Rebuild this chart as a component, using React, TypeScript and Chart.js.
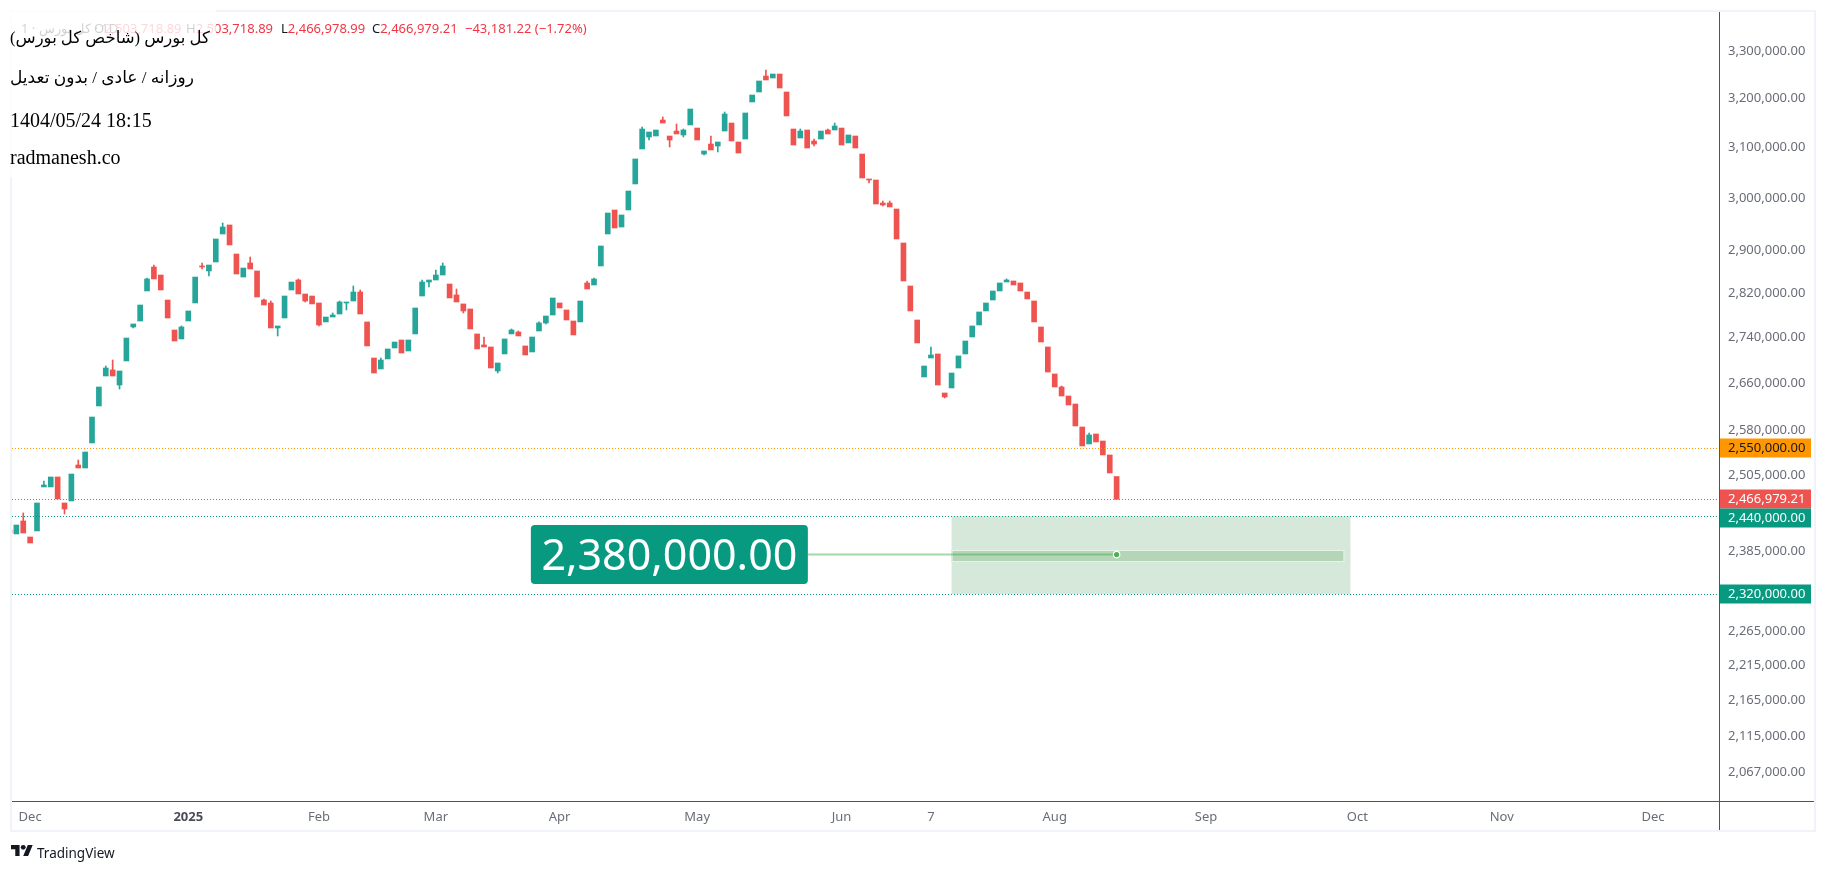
import React, { useEffect, useRef } from "react";
import { Chart, registerables } from "chart.js";

Chart.register(...registerables);

const opens = [
  2418300, 2412100, 2432500, 2407400, 2416800, 2486800, 2486800, 2503000, 2461100, 2464300,
  2522500, 2517600, 2558800, 2621000, 2672500, 2683000, 2656900, 2698700, 2758900, 2769600,
  2824100, 2868400, 2853500, 2807600, 2753500, 2737500, 2769600, 2802200, 2870300, 2861000,
  2877700, 2930500, 2947700, 2892700, 2849800, 2875900, 2861000, 2807600, 2802200, 2757100,
  2775000, 2825900, 2844300, 2818600, 2814900, 2802200, 2767900, 2776800, 2782200, 2802200,
  2805800, 2822200, 2767900, 2703900, 2684700, 2702200, 2721500, 2735700, 2716200, 2746400,
  2814900, 2840600, 2844300, 2853500, 2836900, 2816800, 2800400, 2791300, 2746400, 2726900,
  2723300, 2681200, 2711000, 2746400, 2749900, 2725100, 2714500, 2751700, 2766100, 2780400,
  2802200, 2789500, 2769600, 2767900, 2838800, 2835100, 2870300, 2930500, 2976500, 2943800,
  2976500, 3027200, 3096700, 3120900, 3122900, 3155500, 3122900, 3133000, 3125000, 3145300,
  3139100, 3086600, 3106700, 3102700, 3133000, 3149300, 3110800, 3116800, 3192600, 3213400,
  3246900, 3242700, 3251100, 3213400, 3137100, 3118800, 3135100, 3112800, 3116800, 3135100,
  3135100, 3139100, 3108800, 3122900, 3086600, 3037000, 3035000, 2990000, 2990000, 2978400,
  2913400, 2833300, 2771400, 2670800, 2703900, 2711000, 2643200, 2651800, 2686400, 2711000,
  2741000, 2762500, 2787700, 2807600, 2824100, 2840600, 2842500, 2838800, 2822200, 2805800,
  2758900, 2723300, 2676000, 2653500, 2638000, 2624400, 2585500, 2557200, 2573800, 2562100,
  2539000, 2503718.89,
];

const closes = [
  2414000, 2426200, 2413600, 2398000, 2461100, 2490000, 2503000, 2467500, 2451500, 2507800,
  2517600, 2543900, 2602300, 2653500, 2686400, 2672500, 2681200, 2739200, 2764300, 2798500,
  2846200, 2846200, 2825900, 2775000, 2733900, 2758900, 2787700, 2849800, 2868400, 2872100,
  2921000, 2943800, 2909700, 2855400, 2866500, 2864700, 2813100, 2798500, 2757100, 2760700,
  2814900, 2840600, 2818600, 2805800, 2800400, 2762500, 2776800, 2780400, 2804000, 2804000,
  2822200, 2782200, 2725100, 2677700, 2700400, 2719800, 2732100, 2712700, 2735700, 2793100,
  2840600, 2844300, 2853500, 2870300, 2811300, 2804000, 2787700, 2755300, 2719800, 2723300,
  2686400, 2695200, 2737500, 2753500, 2742800, 2709200, 2741000, 2766100, 2778600, 2811300,
  2793100, 2771400, 2744600, 2805800, 2827700, 2846200, 2907800, 2970700, 2941900, 2966900,
  3013400, 3076700, 3137100, 3131000, 3135100, 3149300, 3114800, 3127000, 3135100, 3178100,
  3114800, 3092700, 3094700, 3110800, 3167800, 3112800, 3088600, 3169900, 3207100, 3236400,
  3238500, 3251100, 3221700, 3163800, 3104700, 3133000, 3098700, 3106700, 3133000, 3127000,
  3143200, 3104700, 3125000, 3098700, 3039000, 3035000, 2988100, 2986200, 2982300, 2921000,
  2842500, 2787700, 2730400, 2689900, 2709200, 2656900, 2636400, 2677700, 2707500, 2733900,
  2760700, 2785900, 2802200, 2824100, 2838800, 2844300, 2835100, 2824100, 2809500, 2767900,
  2732100, 2679400, 2653500, 2638000, 2622700, 2587200, 2553900, 2572100, 2560500, 2539000,
  2509500, 2466979.21,
];

// [candle number, price of the wick's end]; candles not listed have no wick on that side
const upperWicks = [
  [2, 2445200], [5, 2496500], [10, 2530700], [14, 2689900], [15, 2700400], [20, 2848000],
  [21, 2872100], [25, 2760700], [28, 2875900], [31, 2951500], [35, 2887100], [37, 2809500],
  [38, 2805800], [42, 2846200], [47, 2784000], [48, 2805800], [50, 2833300], [51, 2825900],
  [54, 2703900], [60, 2844300], [62, 2862800], [63, 2875900], [65, 2827700], [69, 2741000],
  [73, 2755300], [74, 2751700], [77, 2767900], [84, 2842500], [85, 2848000], [92, 3141200],
  [95, 3161700], [97, 3147300], [98, 3137100], [102, 3122900], [104, 3171900], [110, 3259600],
  [115, 3137100], [117, 3116800], [119, 3137100], [120, 3149300], [127, 2993900], [128, 2993900],
  [134, 2723300], [145, 2846200], [153, 2655200], [157, 2575500],
];

const lowerWicks = [
  [8, 2443600], [16, 2650100], [18, 2757100], [28, 2864700], [29, 2851700], [39, 2742800],
  [43, 2804000], [45, 2760700], [49, 2789500], [61, 2831400], [66, 2784000], [71, 2677700],
  [78, 2764300], [93, 3114800], [96, 3100700], [98, 3120900], [101, 3084600], [103, 3090700],
  [117, 3102700], [125, 3029100], [127, 2984300], [136, 2634700],
];

const priceTicks = [
  3300000, 3200000, 3100000, 3000000, 2900000, 2820000, 2740000, 2660000, 2580000, 2505000,
  2385000, 2265000, 2215000, 2165000, 2115000, 2067000,
];

const monthPositions = [3, 26, 45, 62, 80, 100, 121, 134, 152, 174, 196, 217, 239];
const monthLabels = ["Dec", "2025", "Feb", "Mar", "Apr", "May", "Jun", "7", "Aug", "Sep", "Oct", "Nov", "Dec"];

const priceLevels = [2550000, 2466979.21, 2440000, 2320000];
const levelColors = ["#ff9800", "#ef5350", "#089981", "#089981"];
const levelTextColors = ["#131722", "#ffffff", "#ffffff", "#ffffff"];

const target = 2380000;
const targetBandHigh = 2387000;
const targetBandLow = 2369700;
const zoneHigh = 2440000;
const zoneLow = 2320000;
const zoneStart = 137;
const zoneEnd = 195;
const bandEnd = 194;
const targetLabelEnd = 116.1;
const lastCandle = 161;

const UP = "#26a69a";
const DOWN = "#ef5350";
const FONT = '"Noto Sans", sans-serif';
const fmt = (v: number) =>
  v.toLocaleString("en-US", { minimumFractionDigits: 2, maximumFractionDigits: 2 });

const annotationPlugin = {
  id: "annotations",
  beforeDatasetsDraw(chart: any) {
    const { ctx, scales } = chart;
    const x = scales.x;
    const y = scales.y;
    ctx.save();
    const zx0 = x.getPixelForValue(zoneStart);
    const zx1 = x.getPixelForValue(zoneEnd);
    const zy0 = y.getPixelForValue(zoneHigh);
    const zy1 = y.getPixelForValue(zoneLow);
    ctx.fillStyle = "#d6e8da";
    ctx.fillRect(zx0, zy0, zx1 - zx0, zy1 - zy0);
    const by0 = y.getPixelForValue(targetBandHigh);
    const by1 = y.getPixelForValue(targetBandLow);
    const bx1 = x.getPixelForValue(bandEnd);
    ctx.fillStyle = "#b5d5b7";
    ctx.fillRect(zx0, by0, bx1 - zx0, by1 - by0);
    ctx.strokeStyle = "#e6f1e7";
    ctx.lineWidth = 1;
    ctx.strokeRect(zx0 + 0.5, Math.round(by0) + 0.5, bx1 - zx0, Math.round(by1 - by0));
    ctx.restore();
  },
  afterDatasetsDraw(chart: any) {
    const { ctx, scales, chartArea } = chart;
    const x = scales.x;
    const y = scales.y;
    ctx.save();

    // dotted price levels
    ctx.lineWidth = 1;
    ctx.setLineDash([1, 2]);
    priceLevels.forEach((v, i) => {
      const py = Math.round(y.getPixelForValue(v)) + 0.5;
      ctx.strokeStyle = levelColors[i];
      ctx.beginPath();
      ctx.moveTo(chartArea.left, py);
      ctx.lineTo(chartArea.right, py);
      ctx.stroke();
    });
    ctx.setLineDash([]);

    // target line, point and label
    const ty = y.getPixelForValue(target);
    const lx = x.getPixelForValue(targetLabelEnd);
    const px = x.getPixelForValue(lastCandle);
    ctx.strokeStyle = "rgba(76,175,80,0.5)";
    ctx.lineWidth = 2;
    ctx.beginPath();
    ctx.moveTo(lx, ty);
    ctx.lineTo(px, ty);
    ctx.stroke();
    ctx.fillStyle = "#4caf50";
    ctx.strokeStyle = "#ffffff";
    ctx.lineWidth = 1.2;
    ctx.beginPath();
    ctx.arc(px, ty, 3.2, 0, Math.PI * 2);
    ctx.fill();
    ctx.stroke();

    const boxW = 277;
    const boxH = 59;
    ctx.fillStyle = "#089981";
    ctx.beginPath();
    ctx.roundRect(lx - boxW, ty - boxH / 2, boxW, boxH, 4);
    ctx.fill();
    ctx.fillStyle = "#ffffff";
    ctx.font = `43px ${FONT}`;
    ctx.textAlign = "center";
    ctx.textBaseline = "middle";
    ctx.fillText(fmt(target), lx - boxW / 2, ty + 3);

    // frame and axis lines
    ctx.fillStyle = "#f0f3fa";
    ctx.fillRect(10, 10, 1806, 2);
    ctx.fillRect(10, 10, 2, 822);
    ctx.fillRect(1814, 10, 2, 822);
    ctx.fillRect(10, 830, 1806, 2);
    ctx.fillStyle = "#50535e";
    ctx.fillRect(12, 801, 1802, 1);
    ctx.fillRect(1719, 12, 1, 818);

    // price labels on the axis, pushed down so they never overlap
    ctx.font = `13px ${FONT}`;
    ctx.textAlign = "left";
    let prevBottom = -Infinity;
    priceLevels.forEach((v, i) => {
      const py = Math.max(Math.round(y.getPixelForValue(v)), prevBottom + 9.5);
      ctx.fillStyle = levelColors[i];
      ctx.fillRect(1720, py - 9.5, 91, 19);
      ctx.fillStyle = levelTextColors[i];
      ctx.fillText(fmt(v), 1728, py + 0.5);
      prevBottom = py + 9.5;
    });
    ctx.restore();
  },
};

export default function App() {
  const ref = useRef<HTMLCanvasElement | null>(null);

  useEffect(() => {
    const body = opens.map((o, i) => ({ x: i, y: [o, closes[i]] }));
    const colors = opens.map((o, i) => (closes[i] >= o ? UP : DOWN));
    const wick = (list: number[][], side: "up" | "down") =>
      list.map(([i, v]) => ({
        x: i,
        y: [side === "up" ? Math.max(opens[i], closes[i]) : Math.min(opens[i], closes[i]), v],
      }));
    const wickColor = (list: number[][]) => list.map(([i]) => colors[i]);

    const chart = new Chart(ref.current as HTMLCanvasElement, {
      type: "bar",
      data: {
        datasets: [
          {
            label: "upper wick",
            data: wick(upperWicks, "up"),
            backgroundColor: wickColor(upperWicks),
            barThickness: 1,
          },
          {
            label: "lower wick",
            data: wick(lowerWicks, "down"),
            backgroundColor: wickColor(lowerWicks),
            barThickness: 1,
          },
          {
            label: "body",
            data: body,
            backgroundColor: colors,
            barThickness: 5,
          },
        ] as any,
      },
      options: {
        responsive: false,
        animation: false,
        devicePixelRatio: 1,
        layout: { padding: { left: 12, top: 12, right: 0, bottom: 0 } },
        plugins: { legend: { display: false }, tooltip: { enabled: false } },
        datasets: { bar: { grouped: false } },
        scales: {
          x: {
            type: "linear",
            bounds: "data",
            offset: false,
            min: 0.364,
            max: 248.6,
            grid: { display: false, drawTicks: false, tickLength: 0 },
            border: { display: false },
            afterFit: (s: any) => {
              s.height = 70;
              s.paddingLeft = 0;
              s.paddingRight = 0;
            },
            afterBuildTicks: (s: any) => {
              s.ticks = monthPositions.map((value) => ({ value }));
            },
            ticks: {
              autoSkip: false,
              maxRotation: 0,
              minRotation: 0,
              padding: 8,
              color: (c: any) => (c.tick && c.tick.value === 26 ? "#4a4d58" : "#6a6d78"),
              font: (c: any) => ({
                family: FONT,
                size: 13,
                weight: c.tick && c.tick.value === 26 ? "bold" : "normal",
              }),
              callback: (v: any) => monthLabels[monthPositions.indexOf(Number(v))] ?? "",
            },
          },
          y: {
            type: "logarithmic",
            position: "right",
            bounds: "data",
            min: 2028300,
            max: 3384600,
            grid: { display: false, drawTicks: false, tickLength: 0 },
            border: { display: false },
            afterFit: (s: any) => {
              s.width = 107;
              s.paddingTop = 0;
              s.paddingBottom = 0;
            },
            afterBuildTicks: (s: any) => {
              s.ticks = priceTicks.map((value) => ({ value }));
            },
            ticks: {
              autoSkip: false,
              padding: 9,
              color: "#6a6d78",
              font: { family: FONT, size: 13 },
              callback: (v: any) => fmt(Number(v)),
            },
          },
        },
      } as any,
      plugins: [annotationPlugin as any],
    });
    return () => chart.destroy();
  }, []);

  const line: React.CSSProperties = {
    position: "absolute",
    left: 10,
    whiteSpace: "nowrap",
    color: "#000",
    lineHeight: "24px",
  };
  const rtl: React.CSSProperties = { ...line, direction: "rtl", fontFamily: '"Liberation Serif", "DejaVu Sans", serif', fontSize: 16.5 };
  const ohlc: React.CSSProperties = { position: "absolute", top: 19, whiteSpace: "nowrap", font: `13px/18px ${FONT}` };
  const red = "#f23645";
  const leg = (x: number, k: string, v: string) => (
    <span style={{ ...ohlc, left: x, color: "#131722" }}>
      {k}
      <span style={{ color: red }}>{v}</span>
    </span>
  );

  return (
    <div style={{ position: "fixed", left: 0, top: 0, width: 1826, height: 871, background: "#fff", overflow: "hidden" }}>
      <canvas ref={ref} width={1826} height={871} style={{ position: "absolute", left: 0, top: 0, display: "block" }} />
      <span style={{ ...ohlc, left: 21, color: "#131722", direction: "ltr" }}>{"1 \u200e·\u200e کل بورس \u200e· 1D"}</span>
      {leg(94, "O", "2,503,718.89")}
      {leg(186, "H", "2,503,718.89")}
      {leg(281, "L", "2,466,978.99")}
      {leg(372, "C", "2,466,979.21")}
      <span style={{ ...ohlc, left: 465, color: red }}>−43,181.22 (−1.72%)</span>
      <div style={{ position: "absolute", left: 0, top: 0, width: 216, height: 177, background: "rgba(255,255,255,0.8)" }} />
      <div style={{ ...rtl, top: 26 }}>کل بورس (شاخص کل بورس)</div>
      <div style={{ ...rtl, top: 66, fontSize: 17 }}>روزانه / عادی / بدون تعدیل</div>
      <div style={{ ...line, top: 108, font: '20px/24px "Liberation Serif", serif' }}>1404/05/24 18:15</div>
      <div style={{ ...line, top: 145, font: '20px/24px "Liberation Serif", serif' }}>radmanesh.co</div>
      <svg width="22" height="18" viewBox="0 0 36 28" style={{ position: "absolute", left: 11, top: 842 }}>
        <path d="M14 22H7V11H0V4h14v18zM28 22h-8l7.5-18h8L28 22z" fill="#131722" />
        <circle cx="20" cy="8" r="4" fill="#131722" />
      </svg>
      <span style={{ position: "absolute", left: 37, top: 843, font: `13.5px/20px ${FONT}`, color: "#131722" }}>TradingView</span>
    </div>
  );
}
